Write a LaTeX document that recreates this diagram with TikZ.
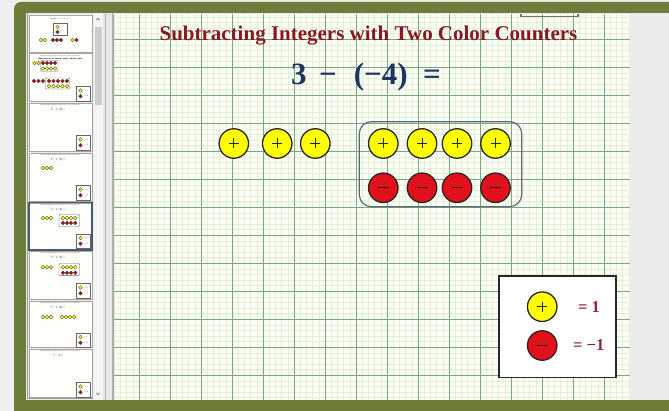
\documentclass[tikz,border=0pt]{standalone}
\usepackage{fontspec}
\setmainfont{Liberation Serif}
\usetikzlibrary{positioning}

\definecolor{outerbg}{RGB}{239,239,239}
\definecolor{framegreen}{RGB}{108,125,58}
\definecolor{panebg}{RGB}{236,236,236}
\definecolor{paper}{RGB}{252,254,248}
\definecolor{gridminor}{RGB}{226,240,208}
\definecolor{gridmajor}{RGB}{120,170,120}
\definecolor{titlered}{RGB}{136,24,36}
\definecolor{eqblue}{RGB}{30,52,98}
\definecolor{keyred}{RGB}{146,34,60}
\definecolor{cyellow}{RGB}{255,255,0}
\definecolor{cred}{RGB}{226,16,26}
\definecolor{selframe}{RGB}{72,90,110}
\definecolor{boxgray}{RGB}{92,104,118}

% tiny counters of the slide thumbnails
\newcommand\tpos[2]{\filldraw[fill=cyellow, draw=black!70, line width=0.3pt] (#1,#2) circle[radius=1.9];}
\newcommand\tneg[2]{\filldraw[fill=cred!75!black, draw=black!70, line width=0.3pt] (#1,#2) circle[radius=1.9];}
% tiny legend box of a thumbnail, top edge at y=#1
\newcommand\tkey[1]{%
  \filldraw[fill=white, draw=black!60, line width=0.5pt] (76,#1) rectangle (90.7,#1+14.3);
  \tpos{80.5}{#1+4}
  \tneg{80.5}{#1+9.8}
  \node[thumbtext, text=keyred] at (86.2,#1+4) {= 1};
  \node[thumbtext, text=keyred] at (86.2,#1+9.8) {= −1};}

\begin{document}
\begin{tikzpicture}[x=1pt, y=-1pt,
    poscounter/.style = {circle, draw=black!85, line width=1.3pt, fill=cyellow,
                         minimum size=29.5pt, inner sep=0pt,
                         path picture={\draw[line width=0.7pt]
                           ([xshift=-5pt]path picture bounding box.center) -- ([xshift=5pt]path picture bounding box.center)
                           ([yshift=-5pt]path picture bounding box.center) -- ([yshift=5pt]path picture bounding box.center);}},
    negcounter/.style = {circle, draw=black!85, line width=1.3pt, fill=cred,
                         minimum size=29.5pt, inner sep=0pt,
                         path picture={\draw[line width=0.9pt]
                           ([xshift=-5.5pt]path picture bounding box.center) -- ([xshift=5.5pt]path picture bounding box.center);}},
    minorline/.style  = {draw=gridminor, line width=0.45pt},
    majorline/.style  = {draw=gridmajor, line width=0.7pt},
    groupbox/.style   = {draw=boxgray, line width=1.2pt, rounded corners=12pt},
    keybox/.style     = {draw=black!85, fill=white, line width=1.6pt},
    thumbpage/.style  = {fill=paper!70!white, draw=black!35, line width=0.5pt},
    thumbtext/.style  = {font=\fontsize{2}{2.4}\selectfont\bfseries, inner sep=0pt},
    titletext/.style  = {font=\fontsize{21}{24}\selectfont\bfseries, text=titlered, inner sep=0pt},
    eqtext/.style     = {font=\fontsize{31}{34}\selectfont\bfseries, text=eqblue, inner sep=0pt},
    keytext/.style    = {font=\fontsize{16.5}{19}\selectfont\bfseries, text=keyred, inner sep=0pt},
]

    \useasboundingbox (0,0) rectangle (669,411);

    % -- window and green frame --
    \fill[outerbg] (0,0) rectangle (669,411);
    \fill[framegreen, rounded corners=7pt] (14,2) rectangle (690,420);
    \fill[panebg] (26,13.5) rectangle (669,400);

    % -- thumbnail pane --
    \draw[black!40, line width=0.5pt] (27.5,13.5) -- (27.5,398.5) -- (93,398.5);
    \fill[black!4] (93.5,13.5) rectangle (102.5,400);
    \fill[black!20] (94.5,27) rectangle (101.5,105);
    \draw[black!60, line width=0.6pt] (96.3,20.2) -- (98,18.4) -- (99.7,20.2);
    \draw[black!60, line width=0.6pt] (96.3,392.8) -- (98,394.6) -- (99.7,392.8);
    \fill[black!9] (103,13.5) rectangle (113,400);
    \draw[black!30, line width=0.8pt] (105,13.5) -- (105,400);
    \draw[black!30, line width=0.8pt] (112,13.5) -- (112,400);

    \foreach \a/\b in {15/52, 53/101, 103/151, 153/201, 203/249, 251/299, 301/347, 349/397}
        \filldraw[thumbpage] (29,\a) rectangle (92,\b);
    \draw[selframe, line width=1.8pt] (29,202.5) rectangle (92,250);

    % thumbnail 1
    \node[thumbtext, text=black!55] (t1head) at (60,19) {Integers: 2 + (−3) = −1};
    \filldraw[fill=white, draw=black!60, line width=0.5pt] (53.5,23) rectangle (67,35);
    \tpos{57.5}{27} \tneg{57.5}{32}
    \tpos{41}{40} \tpos{44.8}{40}
    \tneg{53}{40} \tneg{57}{40} \tneg{61}{40}
    \tpos{72.5}{40} \tneg{76.5}{40}
    \node[thumbtext, text=black!55] (t1a) at (42.9,46) {2};
    \node[thumbtext, text=black!55] (t1b) at (57,46) {−3};
    \node[thumbtext, text=black!55] (t1c) at (74.5,46) {0};

    % thumbnail 2
    \node[thumbtext, text=titlered!55] (t2head) at (60,56) {Subtracting Integers with Two Color Counters};
    \node[thumbtext] (t2line) at (60.5,59.3) {When there are not enough counters, add zero pairs.};
    \tpos{34.5}{63} \tpos{38.5}{63}
    \draw[boxgray, line width=0.4pt, rounded corners=1pt] (40.5,60.3) rectangle (58,71.3);
    \foreach \x in {43,47,51,55} {\tneg{\x}{63} \tpos{\x}{68.5}}
    \foreach \x in {34,38.5,43} {\tneg{\x}{81}}
    \draw[boxgray, line width=0.4pt, rounded corners=1pt] (45.5,78) rectangle (69.5,89);
    \foreach \x in {49,53.5,58,62.5,67} {\tneg{\x}{81} \tpos{\x}{86.2}}
    \tkey{86.5}

    % thumbnails 3 to 8: title and equation
    \foreach \ty/\eq [count=\k] in {103/{3 − (−4) =}, 153/{3 − (−4) =}, 203/{3 − (−4) =},
                                     251/{3 − (−4) =}, 301/{3 − (−4) =}, 349/{7 − 4 =}} {
        \node[thumbtext, text=titlered!55] (thead\k) at (60,\ty+2.5) {Subtracting Integers with Two Color Counters};
        \node[thumbtext, font=\fontsize{3.4}{4}\selectfont\bfseries, text=eqblue!70] (teq\k) at (58,\ty+6.8) {\eq};
    }
    \tkey{135.5}
    \foreach \x in {43,47,51} {\tpos{\x}{168}}
    \tkey{185.5}
    \foreach \x in {43,47,51} {\tpos{\x}{218}}
    \draw[boxgray, line width=0.4pt, rounded corners=1pt] (59,214.5) rectangle (79.5,226.5);
    \foreach \x in {63,67,71,75.3} {\tpos{\x}{218} \tneg{\x}{223}}
    \tkey{234}
    \foreach \x in {43,47,51} {\tpos{\x}{267.3}}
    \draw[boxgray, line width=0.4pt, rounded corners=1pt] (59,263.5) rectangle (79.5,275.7);
    \foreach \x in {63,67,71,75.3} {\tpos{\x}{267.3} \tneg{\x}{272.7}}
    \tkey{283.5}
    \foreach \x in {43,47,51,62,66,70,74.3} {\tpos{\x}{317}}
    \tkey{333}
    \tkey{382.5}

    % -- the slide: graph paper --
    \begin{scope}
        \clip (113,14) rectangle (630,400);
        \fill[paper] (113,14) rectangle (630,400);
        \foreach \i in {0,...,83}
            \draw[minorline] ({114.2+6.2*\i},14) -- ({114.2+6.2*\i},400);
        \foreach \j in {0,...,68}
            \draw[minorline] (113,{16.9+5.6*\j}) -- (630,{16.9+5.6*\j});
        \foreach \i in {0,...,15}
            \draw[majorline] ({139+31*\i},14) -- ({139+31*\i},400);
        \foreach \j in {0,...,12}
            \draw[majorline] (113,{39.3+28*\j}) -- (630,{39.3+28*\j});
    \end{scope}
    \draw[black!35, line width=0.6pt] (113,14) -- (113,400);
    \draw[black!55, line width=1.2pt] (521,14) -- (521,16.6) -- (578,16.6) -- (578,14);

    % -- title and equation --
    \node[titletext, anchor=base] (title) at (368.5,41) {Subtracting Integers with Two Color Counters};
    \node[eqtext, anchor=base] (equation) at (366,85) {3\hspace{0.4em}−\hspace{0.55em}(−4)\hspace{0.5em}=};

    % -- counters --
    \node[poscounter] (p1) at (233.8,143.5) {};
    \node[poscounter] (p2) at (277.2,143.5) {};
    \node[poscounter] (p3) at (315.3,143.5) {};

    \draw[groupbox] (359.3,121.7) rectangle (521.7,206.7);
    \foreach \x [count=\k] in {383.3, 422, 457, 495.5} {
        \node[poscounter] (g\k) at (\x,143.5) {};
        \node[negcounter] (n\k) at (\x,187.8) {};
    }

    % -- legend --
    \draw[keybox] (499,276) rectangle (615.7,377.3);
    \node[poscounter] (kpos) at (542.2,306.7) {};
    \node[negcounter] (kneg) at (542.2,345.5) {};
    \node[keytext, anchor=base west] (kposval) at (578,312.7) {= 1};
    \node[keytext, anchor=base west] (knegval) at (573,350.7) {= −1};

\end{tikzpicture}
\end{document}
